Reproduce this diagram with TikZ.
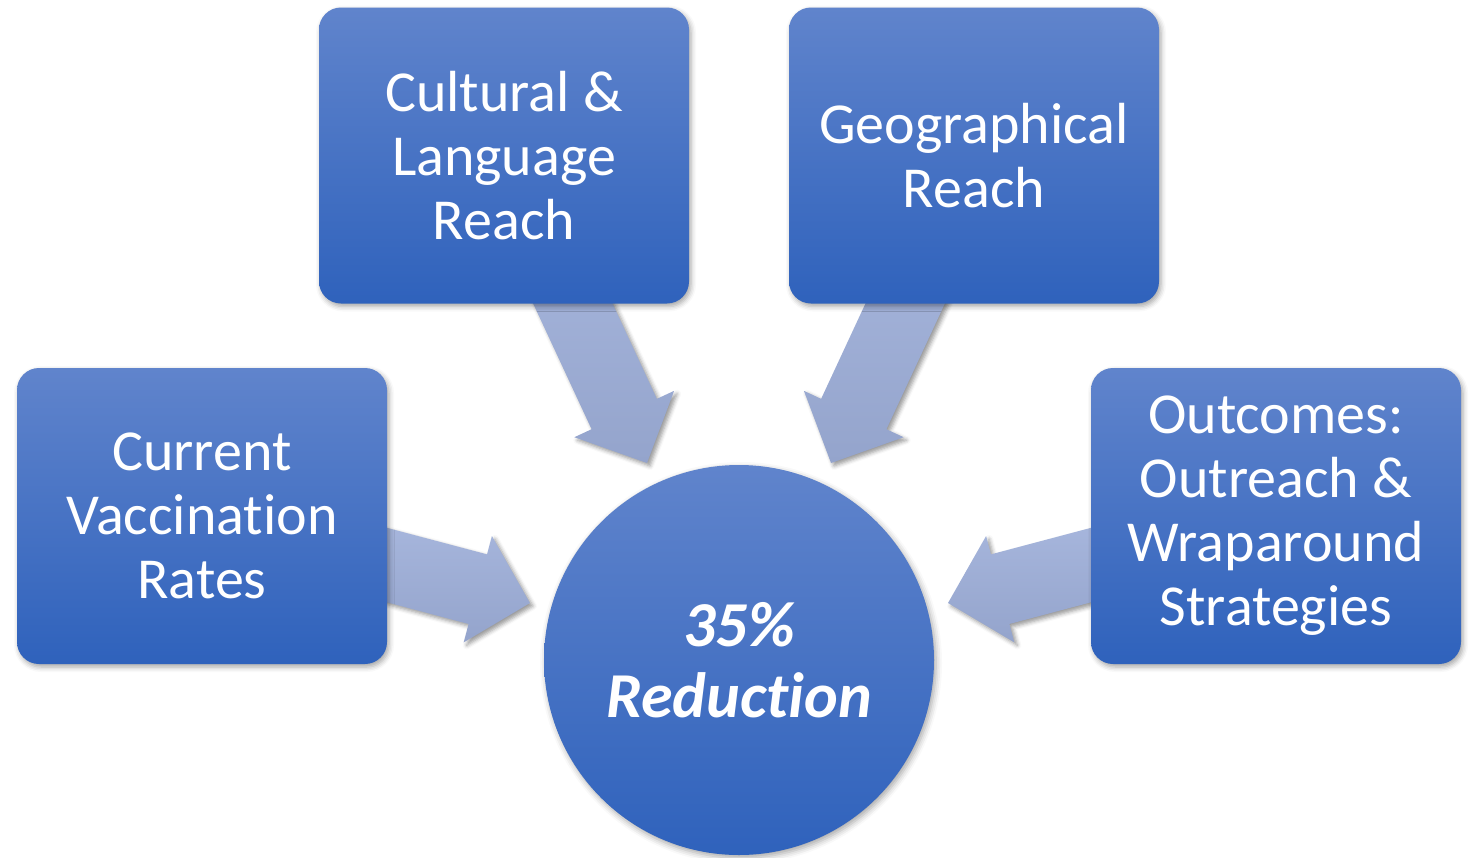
\documentclass[tikz,border=0pt]{standalone}
\usepackage{fontspec}
\setmainfont{Carlito}[Ligatures=NoCommon]
\usetikzlibrary{calc,shadows.blur}
\definecolor{boxtop}{RGB}{96,132,204}
\definecolor{boxbot}{RGB}{47,98,188}
\definecolor{arrtop}{RGB}{173,188,226}
\definecolor{arrbot}{RGB}{148,164,204}
\tikzset{
  boxsty/.style={rectangle, rounded corners=22pt, minimum width=370pt, minimum height=296pt,
    top color=boxtop, bottom color=boxbot, text=white, align=center,
    font=\fontsize{58}{64}\selectfont,
    blur shadow={shadow xshift=2pt, shadow yshift=-3pt, shadow blur radius=5pt, shadow opacity=35}},
  circsty/.style={circle, minimum size=390pt, inner sep=0pt,
    top color=boxtop, bottom color=boxbot, text=white, align=center,
    font=\fontsize{64}{71}\selectfont\bfseries\itshape,
    blur shadow={shadow xshift=2pt, shadow yshift=-3pt, shadow blur radius=6pt, shadow opacity=35}},
  arrsty/.style={top color=arrtop, bottom color=arrbot,
    blur shadow={shadow xshift=3pt, shadow yshift=-3pt, shadow blur radius=4pt, shadow opacity=40}}
}
\newcommand{\blockarr}[2]{%
  \coordinate (hb) at ($(#2)!54pt!(#1)$);
  \coordinate (s1) at ($(#1)!36pt!90:(#2)$);
  \coordinate (s2) at ($(#1)!36pt!-90:(#2)$);
  \coordinate (h1) at ($(hb)!36pt!90:(#2)$);
  \coordinate (h2) at ($(hb)!36pt!-90:(#2)$);
  \coordinate (H1) at ($(hb)!55pt!90:(#2)$);
  \coordinate (H2) at ($(hb)!55pt!-90:(#2)$);
  \path[arrsty] (s1) -- (h1) -- (H1) -- (#2) -- (H2) -- (h2) -- (s2) -- cycle;
}
\begin{document}
\begin{tikzpicture}[x=1pt,y=-1pt]
\useasboundingbox (0,0) rectangle (1478,857);
% anchor points (box centres) and arrow tips
\coordinate (cvac) at (202,516);
\coordinate (ccul) at (504,155.5);
\coordinate (cgeo) at (974,155.5);
\coordinate (cout) at (1276,516);
\coordinate (tvac) at (530,603);
\coordinate (tcul) at (647,463);
\coordinate (tgeo) at (831,463);
\coordinate (tout) at (948,603);
% block arrows
\blockarr{cvac}{tvac}
\blockarr{ccul}{tcul}
\blockarr{cgeo}{tgeo}
\blockarr{cout}{tout}
% boxes
\node[boxsty] (vac) at (cvac) {Current\\Vaccination\\Rates};
\node[boxsty] (cul) at (ccul) {Cultural \&\\Language\\Reach};
\node[boxsty] (geo) at (cgeo) {Geographical\\Reach};
\node[boxsty] (out) at (cout) {Outcomes:\\Outreach \&\\Wraparound\\Strategies};
% centre circle
\node[circsty] (red) at (739,660) {35\%\\Reduction};
\end{tikzpicture}
\end{document}
